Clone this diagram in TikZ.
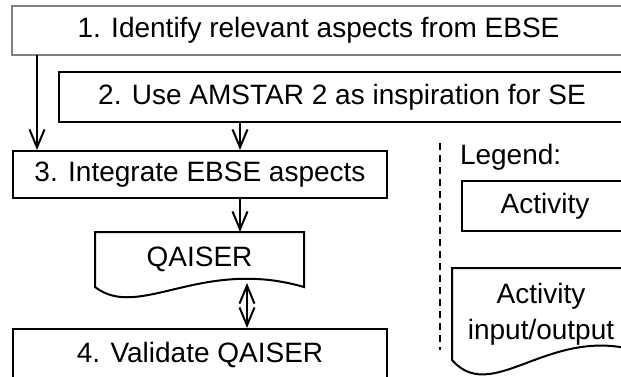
\documentclass[tikz,border=0pt]{standalone}
\usepackage{fontspec}
\setmainfont{Liberation Sans}
\usetikzlibrary{arrows.meta}

\begin{document}
\begin{tikzpicture}[
  x=1pt, y=-1pt,
  font=\fontsize{28}{36}\selectfont,
  line width=2pt,
  arrow/.style={-{Straight Barb[length=18pt, width=15pt]}},
  dblarrow/.style={{Straight Barb[length=18pt, width=15pt]}-{Straight Barb[length=18pt, width=15pt]}},
  activity/.style={rectangle, draw, line width=2pt, inner sep=0pt, minimum height=47pt},
  openbox/.style={rectangle, inner sep=0pt, minimum height=47pt,
    append after command={\pgfextra{\draw[line width=2pt, #1] (\tikzlastnode.north east) -- (\tikzlastnode.north west) -- (\tikzlastnode.south west) -- (\tikzlastnode.south east);}}},
  openbox/.default=black,
  iodoc/.style 2 args={rectangle, inner sep=0pt, align=center, minimum width=207pt,
    append after command={\pgfextra{\draw[line width=2pt] (\tikzlastnode.south east) .. controls +(-103,-#1) and +(44,#2) .. (\tikzlastnode.south west) |- (\tikzlastnode.north east) -- cycle;}}},
  separator/.style={line width=2pt, dash pattern=on 7pt off 5pt}
]
\useasboundingbox (0,0) rectangle (621,376);
\clip (0,0) rectangle (621,376);
\node[openbox=black!50, minimum width=611pt] (identify) at (318.5,30.5) {1. Identify relevant aspects from EBSE};
\node[openbox, minimum width=564pt, minimum height=48pt] (amstar) at (342,97) {2. Use AMSTAR 2 as inspiration for SE};
\node[activity, minimum width=374pt] (integrate) at (200,174.5) {3. Integrate EBSE aspects};
\node[iodoc={30}{34}, minimum height=53pt] (qaiser) at (199.5,259.5) {QAISER};
\node[activity, minimum width=374pt, minimum height=51pt] (validate) at (200,354.5) {4. Validate QAISER};
\node[anchor=west, inner sep=0pt] (legend) at (459,157) {Legend:};
\node[openbox, minimum width=164pt, minimum height=48pt] (legact) at (545,206) {Activity};
\node[iodoc={50}{50}, minimum height=90pt] (legio) at (556.5,314) {\hspace*{-31pt}Activity\\\hspace*{-31pt}input/output};
\coordinate (leftx) at (37,0);
\coordinate (midx) at (240,0);
\coordinate (dblx) at (247,0);
\draw[arrow] (identify.south -| leftx) -- (integrate.north -| leftx);
\draw[arrow] (amstar.south -| midx) -- (integrate.north -| midx);
\draw[arrow] (integrate.south -| midx) -- (qaiser.north -| midx);
\draw[dblarrow, shorten <=-4pt] (qaiser.south -| dblx) -- (validate.north -| dblx);
\draw[separator] (440,143) -- (440,350);
\end{tikzpicture}
\end{document}
